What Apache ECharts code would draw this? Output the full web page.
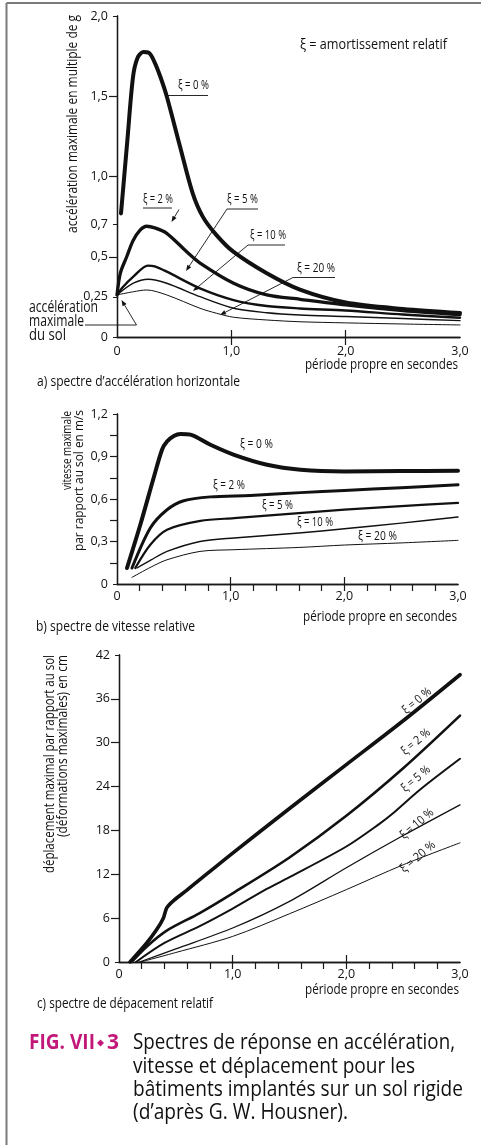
<!DOCTYPE html>
<html><head><meta charset="utf-8">
<script src="https://cdn.jsdelivr.net/npm/echarts@6/dist/echarts.min.js"></script>
<style>html,body{margin:0;padding:0;background:#fff}#c{width:481px;height:1145px}</style>
</head><body><div id="c"></div>
<script>
const FONT = '"Open Sans", Lato, sans-serif';

// ---------- data ----------
const periodTicks = [0, 1, 2, 3];
const accTicksY = [0, 0.25, 0.5, 0.7, 1.0, 1.5, 2.0];
const accRightTicks = [0.5, 1.0, 1.5];
const velTicksY = [0, 0.3, 0.6, 0.9, 1.2];
const dispTicksY = [0, 6, 12, 18, 24, 30, 36, 42];

const accXi0 = [[0.035,0.77],[0.09,1.22],[0.14,1.62],[0.18,1.74],[0.23,1.775],[0.28,1.77],[0.33,1.71],[0.38,1.62],[0.435,1.5],[0.55,1.19],[0.66,0.9],[0.75,0.75],[0.87,0.635],[1.02,0.53],[1.31,0.397],[1.6,0.295],[2.0,0.215],[2.5,0.175],[3.0,0.15]];
const accXi2 = [[0,0.262],[0.03,0.4],[0.085,0.5],[0.14,0.6],[0.2,0.665],[0.26,0.69],[0.33,0.68],[0.435,0.646],[0.61,0.531],[0.73,0.459],[1.02,0.335],[1.31,0.262],[1.6,0.235],[2.0,0.2],[2.5,0.165],[3.0,0.14]];
const accXi5 = [[0,0.262],[0.05,0.31],[0.143,0.376],[0.27,0.445],[0.33,0.44],[0.435,0.407],[0.726,0.303],[1.02,0.23],[1.31,0.193],[1.6,0.178],[2.0,0.165],[2.5,0.14],[3.0,0.12]];
const accXi10 = [[0,0.262],[0.143,0.335],[0.274,0.36],[0.435,0.335],[0.726,0.251],[1.02,0.179],[1.31,0.151],[1.6,0.137],[2.0,0.128],[2.5,0.115],[3.0,0.102]];
const accXi20 = [[0,0.262],[0.143,0.282],[0.26,0.293],[0.435,0.262],[0.726,0.179],[0.87,0.148],[1.02,0.123],[1.31,0.106],[1.6,0.095],[2.0,0.088],[2.5,0.081],[3.0,0.075]];

const velXi0 = [[0.088,0.113],[0.205,0.418],[0.322,0.748],[0.396,0.948],[0.44,1.006],[0.5,1.045],[0.558,1.059],[0.646,1.054],[0.822,0.983],[1.03,0.912],[1.32,0.842],[1.615,0.807],[2.0,0.795],[2.5,0.797],[3.0,0.80]];
const velXi2 = [[0.132,0.113],[0.293,0.395],[0.44,0.524],[0.587,0.588],[0.822,0.615],[1.174,0.625],[1.615,0.645],[2.0,0.66],[2.5,0.68],[3.0,0.70]];
const velXi5 = [[0.161,0.113],[0.293,0.277],[0.44,0.383],[0.734,0.445],[1.03,0.465],[1.6,0.5],[2.0,0.525],[2.5,0.55],[3.0,0.572]];
const velXi10 = [[0.176,0.113],[0.3,0.17],[0.44,0.23],[0.73,0.30],[1.03,0.325],[1.6,0.36],[2.0,0.39],[2.5,0.43],[3.0,0.473]];
const velXi20 = [[0.132,0.047],[0.3,0.12],[0.44,0.171],[0.73,0.23],[1.03,0.242],[1.6,0.258],[2.0,0.275],[2.5,0.29],[3.0,0.308]];

const dispXi0 = [[0.097,0],[0.244,2.6],[0.33,4.4],[0.39,6.0],[0.42,7.4],[0.48,8.4],[0.595,9.8],[1.0,14.9],[1.5,21.0],[2.0,27.0],[2.5,33.0],[3.0,39.3]];
const dispXi2 = [[0.11,0],[0.25,2.2],[0.42,4.3],[0.71,6.7],[1.0,9.4],[1.5,14.3],[2.0,20.0],[2.5,26.5],[3.0,33.7]];
const dispXi5 = [[0.15,0],[0.4,2.6],[0.71,4.9],[1.0,7.3],[1.3,10.0],[1.5,11.6],[2.0,15.8],[2.3,19.0],[2.4,20.2],[2.65,23.6],[3.0,27.8]];
const dispXi10 = [[0.18,0],[0.5,1.8],[1.0,4.65],[1.5,8.3],[2.0,12.9],[2.5,17.3],[3.0,21.5]];
const dispXi20 = [[0.19,0],[0.5,1.3],[1.0,3.5],[1.5,6.6],[2.0,9.9],[2.5,13.3],[3.0,16.3]];

// ---------- helpers ----------
const mctx = document.createElement('canvas').getContext('2d');
function tw(text, font){ mctx.font = font; return mctx.measureText(text).width; }
function txt(text, x, y, size, width, o){
  o = o || {};
  const font = (o.weight || 'normal') + ' ' + size + 'px ' + FONT;
  const sx = width ? width / tw(text, font) : 1;
  return {type:'text', x:x, y:y, rotation:o.rot||0, scaleX:sx, scaleY:1, silent:true, z:100,
    style:{text:text, font:font, fill:o.color||'#111', textAlign:o.align||'left', verticalAlign:'middle', textVerticalAlign:'middle'}};
}
function seg(x1,y1,x2,y2,w){ return {type:'line', silent:true, z:100, shape:{x1:x1,y1:y1,x2:x2,y2:y2}, style:{stroke:'#111', lineWidth:w||0.9}}; }
function arrow(x1,y1,x2,y2){
  const a = Math.atan2(y2-y1, x2-x1), L = 6, H = 2.3;
  const bx = x2 - L*Math.cos(a), by = y2 - L*Math.sin(a);
  return [seg(x1,y1,bx,by),
    {type:'polygon', silent:true, z:100, shape:{points:[[x2,y2],[bx+H*Math.sin(a),by-H*Math.cos(a)],[bx-H*Math.sin(a),by+H*Math.cos(a)]]}, style:{fill:'#111'}}];
}
const fmtNum = v => v === 0 ? '0' : (v === 0.25 ? '0,25' : v.toFixed(1).replace('.', ','));
const range = (a,b,s) => { const r=[]; for(let v=a; v<=b+1e-9; v+=s) r.push(Math.round(v*1000)/1000); return r; };

const axisLineStyle = {lineStyle:{color:'#1a1a1a', width:1.3}};
const labelStyle = {color:'#111', fontFamily:FONT, fontSize:12.5};

function xBottom(grid, ticks, margin){
  return {type:'value', gridIndex:grid, position:'bottom', min:0, max:3, interval:1,
    axisLine:axisLineStyle, splitLine:{show:false},
    axisTick:{show:true, inside:true, length:7, customValues:ticks, lineStyle:{color:'#1a1a1a', width:1.2}},
    axisLabel:Object.assign({margin:margin, customValues:periodTicks, formatter:fmtNum}, labelStyle)};
}
function xTop(grid, ticks, len){
  return {type:'value', gridIndex:grid, position:'top', min:0, max:3, interval:1,
    axisLine:axisLineStyle, splitLine:{show:false}, axisLabel:{show:false},
    axisTick:{show:true, inside:true, length:len, customValues:ticks, lineStyle:{color:'#1a1a1a', width:1.2}}};
}
function yLeft(grid, max, labels, margin, fmt){
  return {type:'value', gridIndex:grid, position:'left', min:0, max:max,
    axisLine:Object.assign({show:true}, axisLineStyle), splitLine:{show:false},
    axisTick:{show:true, inside:false, length:4, customValues:labels, lineStyle:{color:'#1a1a1a', width:1}},
    axisLabel:Object.assign({margin:margin, customValues:labels, formatter:fmt}, labelStyle)};
}
function yRight(grid, max, ticks, len){
  return {type:'value', gridIndex:grid, position:'right', min:0, max:max,
    axisLine:Object.assign({show:true}, axisLineStyle), splitLine:{show:false}, axisLabel:{show:false},
    axisTick:{show:true, inside:true, length:len, customValues:ticks, lineStyle:{color:'#1a1a1a', width:1.2}}};
}
function line(data, xi, yi, w){
  return {type:'line', data:data, xAxisIndex:xi, yAxisIndex:yi, symbol:'none', smooth:0.3,
    lineStyle:{color:'#111', width:w, cap:'round', join:'round'}, silent:true, z:10};
}

const fmtDisp = v => String(v);
const fmtVel = v => v === 0 ? '0' : v.toFixed(1).replace('.', ',');

// ---------- graphics ----------
const G = [];
G.push({type:'line', silent:true, shape:{x1:6.5,y1:3,x2:6.5,y2:1145}, style:{stroke:'#7a7a7a', lineWidth:2}});
G.push({type:'line', silent:true, shape:{x1:6.5,y1:3,x2:481,y2:3}, style:{stroke:'#7a7a7a', lineWidth:2}});

// chart a
G.push(txt('accélération maximale en multiple de g', 73, 15, 14.5, 218, {rot:Math.PI/2, align:'right'}));
G.push(txt('ξ = amortissement relatif', 300, 45, 15, 147));
G.push(txt('ξ = 0 %', 178, 85, 12.5, 31));
G.push(seg(166, 95.5, 208, 95.5));
G.push(txt('ξ = 2 %', 143, 199.5, 12.5, 30));
G.push(seg(143, 208, 172, 208));
G.push(...arrow(179, 209.5, 171.5, 222));
G.push(txt('ξ = 5 %', 227, 199.5, 12.5, 31));
G.push(seg(227, 209, 258, 209));
G.push(...arrow(227, 209, 186, 271));
G.push(txt('ξ = 10 %', 250, 235.5, 12.5, 36));
G.push(seg(248, 245, 285, 245));
G.push(...arrow(248, 245, 193, 291));
G.push(txt('ξ = 20 %', 297, 268, 12.5, 38));
G.push(seg(293, 277.5, 335, 277.5));
G.push(...arrow(293, 277.5, 220, 315));
G.push(txt('accélération', 29, 307, 16, 69));
G.push(txt('maximale', 29, 321.5, 16, 55));
G.push(txt('du sol', 29, 335.5, 16, 37));
G.push(seg(85, 325, 136.5, 325));
G.push(...arrow(136.5, 325, 121.5, 300));
G.push(txt('période propre en secondes', 305, 365, 15, 153));
G.push(txt('a) spectre d’accélération horizontale', 37, 381.5, 15, 203));

// chart b
G.push(txt('vitesse maximale', 67, 411, 13.5, 79, {rot:Math.PI/2, align:'right'}));
G.push(txt('par rapport au sol en m/s', 79.5, 410, 13.5, 141, {rot:Math.PI/2, align:'right'}));
G.push(txt('ξ = 0 %', 240, 444.5, 13, 33));
G.push(txt('ξ = 2 %', 213, 485, 13, 32));
G.push(txt('ξ = 5 %', 262, 505, 13, 31));
G.push(txt('ξ = 10 %', 297, 522.5, 13, 36));
G.push(txt('ξ = 20 %', 358, 536.5, 13, 39));
G.push(txt('période propre en secondes', 303, 616.5, 15, 154));
G.push(txt('b) spectre de vitesse relative', 36, 626.5, 15, 159));

// chart c
G.push(txt('déplacement maximal par rapport au sol', 50, 655, 14, 218, {rot:Math.PI/2, align:'right'}));
G.push(txt('(déformations maximales) en cm', 63, 655, 14, 182, {rot:Math.PI/2, align:'right'}));
const r40 = 40 * Math.PI / 180;
G.push(txt('ξ = 0 %', 417, 701, 12, 34, {rot:r40, align:'center'}));
G.push(txt('ξ = 2 %', 416, 742, 12, 34, {rot:r40, align:'center'}));
G.push(txt('ξ = 5 %', 416, 779, 12, 34, {rot:r40, align:'center'}));
G.push(txt('ξ = 10 %', 417, 824, 12, 40, {rot:r40, align:'center'}));
G.push(txt('ξ = 20 %', 418, 857, 12, 42, {rot:r40, align:'center'}));
G.push(txt('période propre en secondes', 305, 990, 15, 154));
G.push(txt('c) spectre de dépacement relatif', 37, 1004, 15, 176));

// caption
G.push(txt('FIG. VII', 29, 1043, 21, 66, {weight:'bold', color:'#c2187a'}));
G.push({type:'polygon', silent:true, z:100, shape:{points:[[100.5,1039.5],[104,1043],[100.5,1046.5],[97,1043]]}, style:{fill:'#c2187a'}});
G.push(txt('3', 107, 1043, 21, 12, {weight:'bold', color:'#c2187a'}));
G.push(txt('Spectres de réponse en accélération,', 133, 1043.5, 21, 322));
G.push(txt('vitesse et déplacement pour les', 133, 1067, 21, 282));
G.push(txt('bâtiments implantés sur un sol rigide', 133, 1090, 21, 330));
G.push(txt('(d’après G. W. Housner).', 133, 1113, 21, 215));

const option = {
  animation:false,
  backgroundColor:'#fff',
  grid:[
    {left:117, top:16, width:343, height:321},
    {left:117, top:414, width:341, height:170},
    {left:119, top:655, width:341, height:307}
  ],
  xAxis:[
    xBottom(0, [1,2], 8), xTop(0, [1,2], 8),
    xBottom(1, [1,2], 6), xTop(1, range(0.2, 2.8, 0.2), 7),
    xBottom(2, [1,2], 6), xTop(2, range(0.2, 2.8, 0.2), 7)
  ],
  yAxis:[
    yLeft(0, 2, accTicksY, 9, fmtNum), yRight(0, 2, accRightTicks, 8),
    yLeft(1, 1.2, velTicksY, 9, fmtVel), yRight(1, 1.2, range(0.15, 1.05, 0.15), 7),
    yLeft(2, 42, dispTicksY, 9, fmtDisp), yRight(2, 42, range(6, 36, 6), 8)
  ],
  series:[
    line(accXi0, 0, 0, 4), line(accXi2, 0, 0, 3.3), line(accXi5, 0, 0, 2.4), line(accXi10, 0, 0, 1.4), line(accXi20, 0, 0, 1),
    line(velXi0, 2, 2, 4), line(velXi2, 2, 2, 3), line(velXi5, 2, 2, 2.2), line(velXi10, 2, 2, 1.4), line(velXi20, 2, 2, 1),
    line(dispXi0, 4, 4, 3.6), line(dispXi2, 4, 4, 2.6), line(dispXi5, 4, 4, 2), line(dispXi10, 4, 4, 1.3), line(dispXi20, 4, 4, 1)
  ],
  graphic:{elements:G}
};
const chart = echarts.init(document.getElementById('c'), null, {renderer:'canvas'});
chart.setOption(option);
</script>
</body></html>
